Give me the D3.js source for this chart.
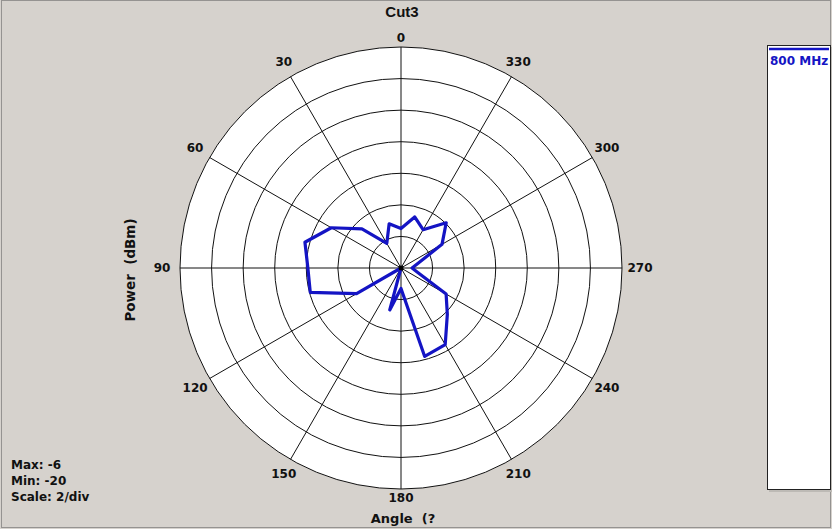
<!DOCTYPE html>
<html>
<head>
<meta charset="utf-8">
<script src="https://cdn.jsdelivr.net/npm/d3@7"></script>
<style>
  body { margin: 0; background: #d6d2cd; }
  svg { display: block; font-family: "DejaVu Sans", Verdana, sans-serif; }
  text { white-space: pre; }
</style>
</head>
<body>
<svg id="chart" width="832" height="529"></svg>
<script>
// measured pattern, one sample every 15 degrees (dBm)
const angles = [0, 15, 30, 45, 60, 75, 90, 105, 120, 135, 150, 165,
  180, 195, 210, 225, 240, 255, 270, 285, 300, 315, 330, 345];
const power = [-17.5, -17.1, -18.2, -16.5, -14.9, -13.7, -14.1, -14.05, -16.75, -20, -20, -17.25,
  -18.7, -14.2, -14.4, -15.85, -16.7, -18.9, -19.3, -18.9, -17.0, -15.95, -17.2, -16.65];

const ringValues = [-18, -16, -14, -12, -10, -8, -6];
const spokeAngles = d3.range(0, 360, 30);
const legendLabel = "800 MHz";
const statLines = ["Max: -6", "Min: -20", "Scale: 2/div"];

const svg = d3.select("#chart");
const cx = 401, cy = 268, radius = 221;

const r = d3.scaleLinear().domain([-20, -6]).range([0, radius]);
const rad = d => d * Math.PI / 180;

// dotted frame round the window
svg.append("rect")
  .attr("x", 1.5).attr("y", 0.5)
  .attr("width", 829).attr("height", 527)
  .attr("fill", "none")
  .attr("stroke", "#555")
  .attr("stroke-dasharray", "1,1");

const g = svg.append("g").attr("transform", `translate(${cx},${cy})`);

g.append("circle").attr("r", radius).attr("fill", "#fff");

// rings
g.selectAll(".ring")
  .data(ringValues)
  .join("circle")
  .attr("r", d => r(d))
  .attr("fill", "none")
  .attr("stroke", "#111")
  .attr("stroke-width", 1);

// spokes (angles go counter-clockwise from the top)
g.selectAll(".spoke")
  .data(spokeAngles)
  .join("line")
  .attr("x1", 0).attr("y1", 0)
  .attr("x2", d => -radius * Math.sin(rad(d)))
  .attr("y2", d => -radius * Math.cos(rad(d)))
  .attr("stroke", "#111")
  .attr("stroke-width", 1);

// angle labels
g.selectAll(".alabel")
  .data(spokeAngles)
  .join("text")
  .attr("x", d => -(230 + 9 * Math.abs(Math.sin(rad(d)))) * Math.sin(rad(d)))
  .attr("y", d => -Math.min(240, 230 + 16 * Math.abs(Math.sin(rad(d)))) * Math.cos(rad(d)))
  .attr("text-anchor", "middle")
  .attr("dominant-baseline", "central")
  .attr("font-size", 12)
  .attr("font-weight", "bold")
  .attr("fill", "#111")
  .text(d => d);

// trace
const line = d3.lineRadial()
  .angle((d, i) => -rad(angles[i]))
  .radius(d => r(d))
  .curve(d3.curveLinearClosed);

g.append("path")
  .attr("d", line(power))
  .attr("fill", "none")
  .attr("stroke", "#1414c4")
  .attr("stroke-width", 3.2)
  .attr("stroke-linejoin", "round");

g.append("circle").attr("r", 2.5).attr("fill", "#000");

// title and axis names
svg.append("text")
  .attr("x", 402).attr("y", 17)
  .attr("text-anchor", "middle")
  .attr("font-family", "Liberation Sans, Arial, sans-serif")
  .attr("font-size", 15).attr("font-weight", "bold")
  .attr("fill", "#111")
  .text("Cut3");

svg.append("text")
  .attr("x", cx + 2).attr("y", 523)
  .attr("text-anchor", "middle")
  .attr("font-size", 13).attr("font-weight", "bold")
  .attr("fill", "#111")
  .text("Angle  (?");

svg.append("text")
  .attr("transform", `translate(135,${cy + 2}) rotate(-90)`)
  .attr("text-anchor", "middle")
  .attr("font-size", 13.5).attr("font-weight", "bold")
  .attr("fill", "#111")
  .text("Power  (dBm)");

// stats
svg.selectAll(".stat")
  .data(statLines)
  .join("text")
  .attr("x", 11)
  .attr("y", (d, i) => 469 + i * 16)
  .attr("font-size", 12).attr("font-weight", "bold")
  .attr("fill", "#111")
  .text(d => d);

// legend
svg.append("rect")
  .attr("x", 769).attr("y", 47)
  .attr("width", 63).attr("height", 445)
  .attr("fill", "#bdbab5");
svg.append("rect")
  .attr("x", 767.5).attr("y", 45.5)
  .attr("width", 63).attr("height", 444)
  .attr("fill", "#fff")
  .attr("stroke", "#222");
svg.append("line")
  .attr("x1", 769).attr("x2", 829)
  .attr("y1", 49).attr("y2", 49)
  .attr("stroke", "#1414c4").attr("stroke-width", 2.5);
svg.append("text")
  .attr("x", 770).attr("y", 65)
  .attr("font-size", 12).attr("font-weight", "bold")
  .attr("fill", "#1414c4")
  .text(legendLabel);
</script>
</body>
</html>
